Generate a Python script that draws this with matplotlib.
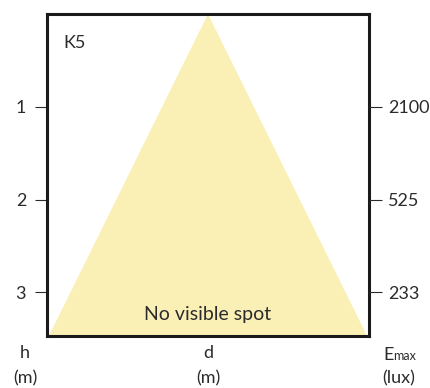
import matplotlib
matplotlib.use("Agg")
import matplotlib.pyplot as plt

# data
heights = [1, 2, 3]
emax = ["2100", "525", "233"]
h_max = 3.47
beam_half = 1.72  # half width of the light cone at h_max

plt.rcParams['font.family'] = ['Lato', 'DejaVu Sans']
txt = '#2b2b2b'

fig = plt.figure(figsize=(4.3, 3.88), dpi=100)
ax = fig.add_axes([47 / 430, 1 - 336 / 388, 322 / 430, 322 / 388])

ax.fill([-beam_half, 0, beam_half], [h_max, 0, h_max], color='#faf0b6',
        edgecolor='none', zorder=1)

ax.set_xlim(-beam_half - 0.02, beam_half + 0.02)
ax.set_ylim(h_max, 0)
ax.set_xticks([])
ax.set_yticks(heights)
ax.set_yticklabels([str(h) for h in heights])
ax.tick_params(axis='y', direction='out', length=9, width=0.8, color=txt,
               labelcolor=txt, labelsize=13, pad=6)
for s in ax.spines.values():
    s.set_linewidth(2.2)
    s.set_color('#1a1a1a')

ax2 = ax.twinx()
ax2.set_ylim(h_max, 0)
ax2.set_yticks(heights)
ax2.set_yticklabels(emax)
ax2.tick_params(axis='y', direction='out', length=9, width=0.8, color=txt,
                labelcolor=txt, labelsize=13, pad=5)
for s in ax2.spines.values():
    s.set_visible(False)

ax.text(0.05, 0.895, "K5", transform=ax.transAxes, fontsize=13, color=txt)
ax.text(0.5, 0.05, "No visible spot", transform=ax.transAxes, fontsize=14,
        color=txt, ha='center')

for x, lbl in [(25, "h"), (208, "d")]:
    fig.text(x / 430, 1 - 353 / 388, lbl, ha='center', va='center',
             fontsize=13, color=txt)
    fig.text(x / 430, 1 - 378 / 388, "(m)", ha='center', va='center',
             fontsize=13, color=txt)
fig.text(383 / 430, 1 - 360 / 388, "E", ha='left', va='baseline',
         fontsize=13, color=txt)
fig.text(393 / 430, 1 - 360 / 388, "max", ha='left', va='baseline',
         fontsize=9, color=txt)
fig.text(399 / 430, 1 - 378 / 388, "(lux)", ha='center', va='center',
         fontsize=13, color=txt)

fig.savefig("out.png", dpi=100)
